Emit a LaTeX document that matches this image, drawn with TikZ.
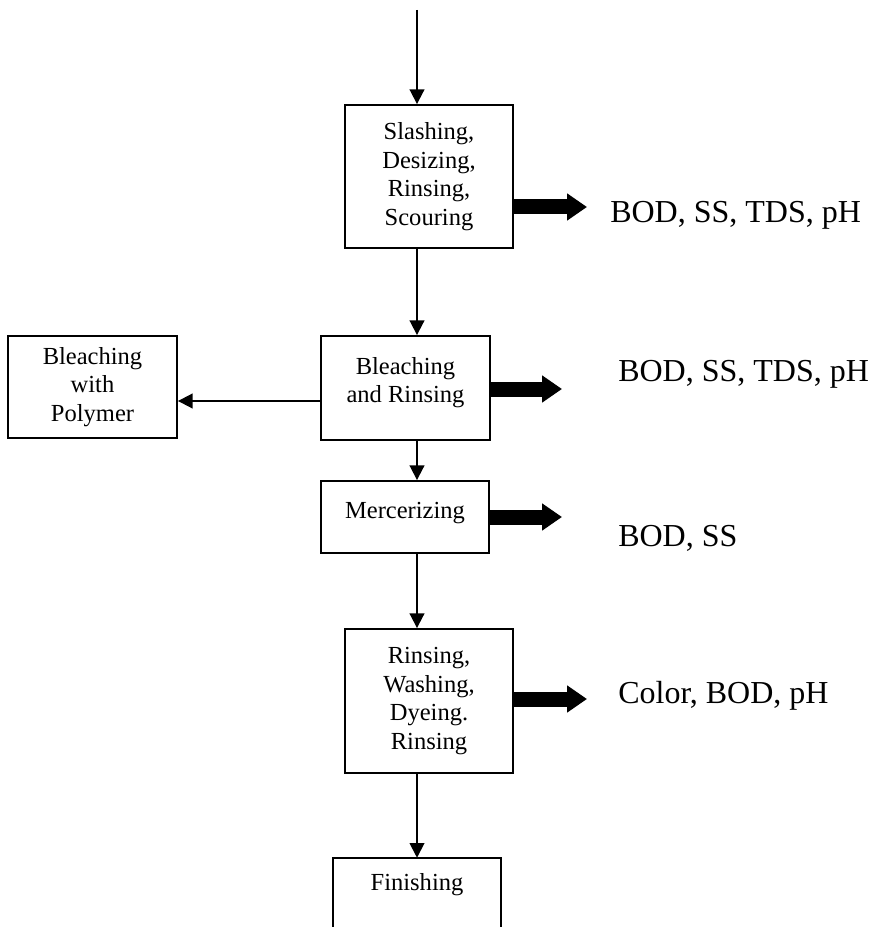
\documentclass[tikz,border=0pt]{standalone}
\usepackage{fontspec}
\setmainfont{Liberation Serif}
\usetikzlibrary{arrows.meta}
% one drawing unit = one pixel of the 878 x 927 layout
\newdimen\pxu \pxu=0.75pt
\begin{document}
\begin{tikzpicture}[x=0.75pt,y=-0.75pt,
  stagebox/.style={draw,line width=1.4pt,inner sep=0pt},
  stagetext/.style={inner sep=0pt,align=center,
    font=\fontsize{18.4pt}{21.4pt}\selectfont},
  wastetext/.style={inner sep=0pt,anchor=base west,
    font=\fontsize{24pt}{28pt}\selectfont},
  flow/.style={line width=1.4pt,-{Triangle[length=11pt,width=11pt]}},
  waste/.style={line width=11.25pt,-{Triangle[length=15pt,width=19.5pt]}}]
\useasboundingbox (0,0) rectangle (878,927);

% main process axis
\coordinate (ax) at (417,0);
\coordinate (in) at (417,10);

% process stages
\node[stagebox,stagetext,minimum width=168\pxu,minimum height=143\pxu]
  (b1) at (429,176.5) {Slashing,\\Desizing,\\Rinsing,\\Scouring};
\node[stagebox,minimum width=169\pxu,minimum height=104\pxu]
  (b2) at (405.5,388) {};
\node[stagetext] (b2t) at (405.5,382.5) {Bleaching\\and Rinsing};
\node[stagebox,stagetext,minimum width=169\pxu,minimum height=102\pxu]
  (poly) at (92.5,387) {Bleaching\\with\\Polymer};
\node[stagebox,minimum width=168\pxu,minimum height=72\pxu]
  (b3) at (405,517) {};
\node[stagetext,anchor=base] (b3t) at (405,518) {Mercerizing};
\node[stagebox,stagetext,minimum width=168\pxu,minimum height=144\pxu]
  (b4) at (429,701) {Rinsing,\\Washing,\\Dyeing.\\Rinsing};
% last stage, open at the bottom
\node[inner sep=0pt,minimum width=168\pxu,minimum height=69\pxu]
  (b5) at (417,892.5) {};
\draw[line width=1.4pt] (b5.south west) -- (b5.north west)
  -- (b5.north east) -- (b5.south east);
\node[stagetext,anchor=base] (b5t) at (417,890) {Finishing};

% main flow
\draw[flow] (in) -- (ax |- b1.north);
\draw[flow] (ax |- b1.south) -- (ax |- b2.north);
\draw[flow] (ax |- b2.south) -- (ax |- b3.north);
\draw[flow] (ax |- b3.south) -- (ax |- b4.north);
\draw[flow] (ax |- b4.south) -- (ax |- b5.north);

% side branch
\coordinate (br) at (0,401);
\draw[flow] (br -| b2.west) -- (br -| poly.east);

% waste streams
\coordinate (w1) at (587,207);
\coordinate (w2) at (562,389);
\coordinate (w3) at (562,517);
\coordinate (w4) at (587,699);
\draw[waste] (w1 -| b1.east) -- (w1);
\draw[waste] (w2 -| b2.east) -- (w2);
\draw[waste] (w3 -| b3.east) -- (w3);
\draw[waste] (w4 -| b4.east) -- (w4);

\node[wastetext] (l1) at (610,223) {BOD, SS, TDS, pH};
\node[wastetext] (l2) at (618,381) {BOD, SS, TDS, pH};
\node[wastetext] (l3) at (618,546) {BOD, SS};
\node[wastetext] (l4) at (618,703) {Color, BOD, pH};
\end{tikzpicture}
\end{document}
